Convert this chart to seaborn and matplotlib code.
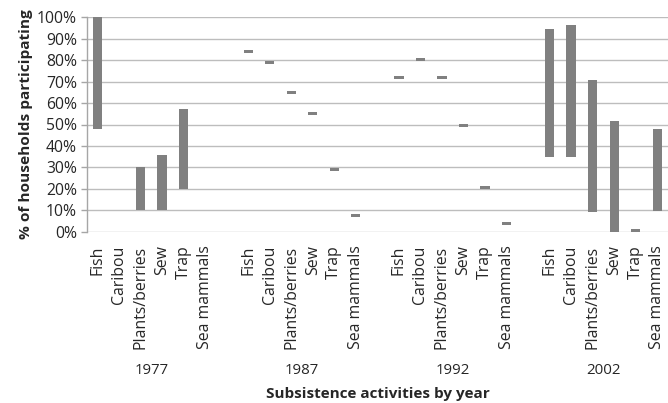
import numpy as np
import pandas as pd
import matplotlib
matplotlib.use("Agg")
import matplotlib.pyplot as plt
import matplotlib.transforms as mtransforms
import seaborn as sns

# ---- data ----
categories = ["Fish", "Caribou", "Plants/berries", "Sew", "Trap", "Sea mammals"]
years = ["1977", "1987", "1992", "2002"]

low_1977 = [48.0, None, 10.0, 10.0, 20.0, None]
high_1977 = [100.0, None, 30.0, 36.0, 57.0, None]

low_1987 = [83.3, 78.4, 64.0, 54.5, 28.2, 6.8]
high_1987 = [84.7, 79.8, 65.4, 55.9, 29.6, 8.2]

low_1992 = [71.0, 79.4, 71.0, 48.7, 20.0, 3.0]
high_1992 = [72.4, 80.8, 72.4, 50.1, 21.4, 4.4]

low_2002 = [35.0, 35.0, 9.3, 0.0, 0.0, 9.8]
high_2002 = [94.4, 96.5, 70.6, 51.8, 1.2, 48.0]

lows = [low_1977, low_1987, low_1992, low_2002]
highs = [high_1977, high_1987, high_1992, high_2002]

# ---- build table ----
rows = []
n_cat = len(categories)
tick_pos, tick_lab, year_pos = [], [], []
for gi, yr in enumerate(years):
    start = gi * (n_cat + 1)
    for ci, cat in enumerate(categories):
        pos = start + ci
        tick_pos.append(pos)
        tick_lab.append(cat)
        lo, hi = lows[gi][ci], highs[gi][ci]
        if lo is not None:
            rows.append(dict(pos=pos, low=lo, high=hi, span=hi - lo, cat=cat, year=yr))
    year_pos.append(start + (n_cat - 1) / 2)
df = pd.DataFrame(rows).sort_values("pos").reset_index(drop=True)

# ---- figure ----
sns.set_theme(style="white")
plt.rcParams["font.family"] = ["Open Sans", "DejaVu Sans"]

W, H = 668, 403
fig = plt.figure(figsize=(W / 100, H / 100), dpi=100)
left_px, right_px, top_px, bot_px = 86.7, 668.0, 17.3, 231.7
ax = fig.add_axes([left_px / W, 1 - bot_px / H, (right_px - left_px) / W, (bot_px - top_px) / H])

sns.barplot(data=df, x="pos", y="span", native_scale=True, width=0.43,
            color="#808080", saturation=1, bottom=df["low"].values,
            linewidth=0, ax=ax, zorder=3, errorbar=None)

ax.set_xlim(-0.5, (len(years) * (n_cat + 1)) - 1.5)
ax.set_ylim(0, 100)
ax.set_yticks(np.arange(0, 101, 10))
ax.set_yticklabels([f"{v}%" for v in range(0, 101, 10)])
ax.yaxis.grid(True, color="#bdbdbd", linewidth=1.0, zorder=0)
ax.xaxis.grid(False)
for s in ["top", "right", "bottom"]:
    ax.spines[s].set_visible(False)
ax.spines["left"].set_color("#a6a6a6")
ax.spines["left"].set_linewidth(1.0)
ax.tick_params(axis="y", which="major", length=4, width=1, color="#a6a6a6",
               direction="out", pad=3, labelsize=11.3, labelcolor="#262626", left=True)
ax.set_xticks(tick_pos)
ax.set_xticklabels(tick_lab, rotation=90, fontsize=11.4, color="#262626", va="top", ha="center")
ax.tick_params(axis="x", length=0, pad=10)

ax.set_xlabel("")
ax.set_ylabel("% of households participating", fontsize=11.1, fontweight="bold",
              color="#262626", labelpad=3)

trans = mtransforms.blended_transform_factory(ax.transData, fig.transFigure)
for yp, yr in zip(year_pos, years):
    ax.text(yp, 1 - 370 / H, yr, transform=trans, ha="center", va="center",
            fontsize=10.8, color="#262626")
fig.text((left_px + 670) / 2 / W, 1 - 394 / H, "Subsistence activities by year",
         ha="center", va="center", fontsize=11.0, fontweight="bold", color="#262626")

fig.savefig("out.png", dpi=100)
